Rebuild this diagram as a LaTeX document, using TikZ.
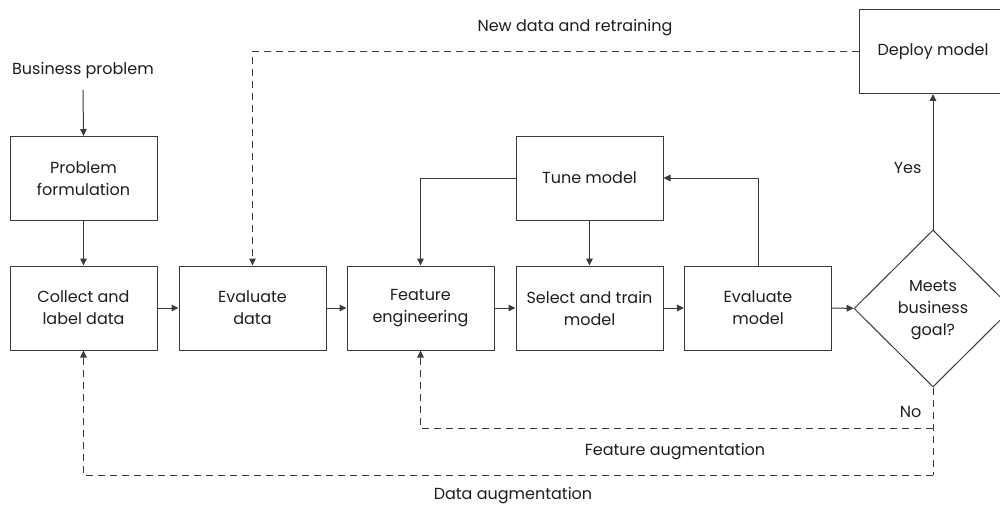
\documentclass[tikz,border=0pt]{standalone}
\usepackage{fontspec}
\setmainfont{Poppins}
\usetikzlibrary{arrows.meta,shapes.geometric}
\definecolor{ln}{HTML}{3A3A3A}
\definecolor{tx}{HTML}{1E1E1E}
\begin{document}
\begin{tikzpicture}[x=1pt,y=-1pt,
  every node/.style={text=tx,font=\fontsize{16}{22}\selectfont},
  stepbox/.style={draw=ln,line width=1pt,minimum width=147pt,minimum height=84pt,align=center,inner sep=2pt},
  decide/.style={draw=ln,line width=1pt,shape=diamond,minimum width=158pt,minimum height=157pt,inner sep=0pt,align=center},
  arr/.style={draw=ln,line width=1pt,-{Triangle[length=7pt,width=6.5pt]}},
  darr/.style={arr,dash pattern=on 7pt off 5pt},
  dline/.style={draw=ln,line width=1pt,dash pattern=on 7pt off 5pt}]
\useasboundingbox (0,0) rectangle (1000,508);
\node (biz) at (83,70) {Business problem};
\node[stepbox] (prob) at (83.5,178.5) {Problem\\formulation};
\node[stepbox] (collect) at (83.5,308) {Collect and\\label data};
\node[stepbox] (evald) at (252.5,308) {Evaluate\\data};
\node[stepbox] (feat) at (420.5,308) {Feature\\engineerin\smash{g}};
\node[stepbox] (sel) at (589.5,308) {Select and train\\model};
\node[stepbox] (tune) at (589.5,178) {Tune model};
\node[stepbox] (evalm) at (758,308) {Evaluate\\model};
\node[decide] (goal) at (933,308.5) {Meets\\business\\\smash{g}oal?};
\node[stepbox] (deploy) at (933,51.5) {Deploy model};
\coordinate (fa) at (933,428);
\coordinate (da) at (933,475);
\node (newdata) at (575,28) {New data and retraining};
\node[anchor=east] (yes) at (925,168) {Yes};
\node[anchor=east] (no) at (925,412) {No};
\node (featlbl) at (675,452) {Feature augmentation};
\node (datalbl) at (513,496) {Data augmentation};
\draw[arr] (biz.south) ++(0,8) coordinate (bz) -- (prob.north);
\draw[arr] (prob) -- (collect);
\draw[arr] (collect) -- (evald);
\draw[arr] (evald) -- (feat);
\draw[arr] (feat) -- (sel);
\draw[arr] (sel) -- (evalm);
\draw[arr] (evalm) -- (goal);
\draw[arr] (tune) -- (sel);
\draw[arr] (tune.west) -| (feat.north);
\draw[arr] (evalm.north) |- (tune.east);
\draw[arr] (goal.north) -- (deploy.south);
\draw[darr] (deploy.west) -| (evald.north);
\draw[dline] (goal.south) -- (da);
\draw[darr] (fa) -| (feat.south);
\draw[darr] (da) -| (collect.south);
\end{tikzpicture}
\end{document}
